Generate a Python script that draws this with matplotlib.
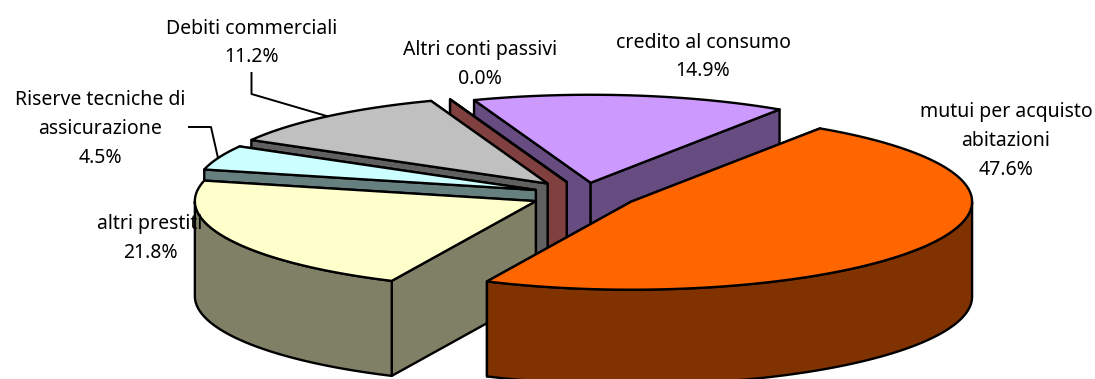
import numpy as np
import matplotlib
matplotlib.use("Agg")
import matplotlib.pyplot as plt

# dati
labels = ["credito al consumo", "mutui per acquisto\nabitazioni", "altri prestiti",
          "Riserve tecniche di\nassicurazione", "Debiti commerciali", "Altri conti passivi"]
values = [14.9, 47.6, 21.8, 4.5, 11.2, 0.0]

top_colors = ["#CC99FF", "#FF6600", "#FFFFCC", "#CCFFFF", "#C0C0C0", "#993333"]
side_colors = ["#664C80", "#803300", "#808066", "#668080", "#606060", "#804040"]

# geometria della torta (pixel)
W, H = 1095, 379
cx, cy = 585, 195
rx, ry = 341, 88
depth = 95
start = 110
explode = [0.14, 0.155, 0.16, 0.155, 0.17, 0.157]
draw_order = [0, 5, 4, 3, 2, 1]

label_pos = [(703, 57), (1006, 141), (150, 238), (100, 129), (252, 43), (480, 64)]

fig = plt.figure(figsize=(W / 100, H / 100), dpi=100)
ax = fig.add_axes([0, 0, 1, 1])
ax.set_xlim(0, W)
ax.set_ylim(H, 0)
ax.axis("off")

edges = start - np.cumsum([0] + values) * 3.6


def pt(a, ox, oy):
    a = np.radians(a)
    return ox + rx * np.cos(a), oy - ry * np.sin(a)


def face(xs, ys, color, z):
    ax.fill(xs, ys, facecolor=color, edgecolor="black", linewidth=1.7,
            joinstyle="round", zorder=z)


for z, i in enumerate(draw_order):
    a0, a1 = edges[i], edges[i + 1]  # a1 < a0, senso orario
    mid = np.radians((a0 + a1) / 2)
    ox = cx + explode[i] * rx * np.cos(mid)
    oy = cy - explode[i] * ry * np.sin(mid)

    # pareti radiali, prima quella piu' lontana
    for a in sorted((a0, a1), key=lambda q: pt(q, ox, oy)[1]):
        x, y = pt(a, ox, oy)
        face([ox, x, x, ox], [oy, y, y + depth, oy + depth], side_colors[i], z * 3)

    # parete esterna, solo la parte davanti
    t = np.linspace(a0, a1, 200)
    front = np.sin(np.radians(t)) <= 0
    if front.any():
        x, y = pt(t[front], ox, oy)
        face(np.r_[x, x[::-1]], np.r_[y, y[::-1] + depth], side_colors[i], z * 3 + 1)

    # faccia superiore
    x, y = pt(t, ox, oy)
    face(np.r_[ox, x], np.r_[oy, y], top_colors[i], z * 3 + 2)

# linee guida
ax.plot([251.5, 251.5, 330], [73, 94, 117], color="black", lw=1.4, zorder=1)
ax.plot([189, 211, 218], [127, 127, 158], color="black", lw=1.4, zorder=1)

for lab, val, (x, y) in zip(labels, values, label_pos):
    ax.text(x, y, f"{lab}\n{val:.1f}%", ha="center", va="center", ma="center",
            fontsize=14, family="Noto Sans", linespacing=1.6, color="black", zorder=50)

fig.savefig("out.png", dpi=100)
